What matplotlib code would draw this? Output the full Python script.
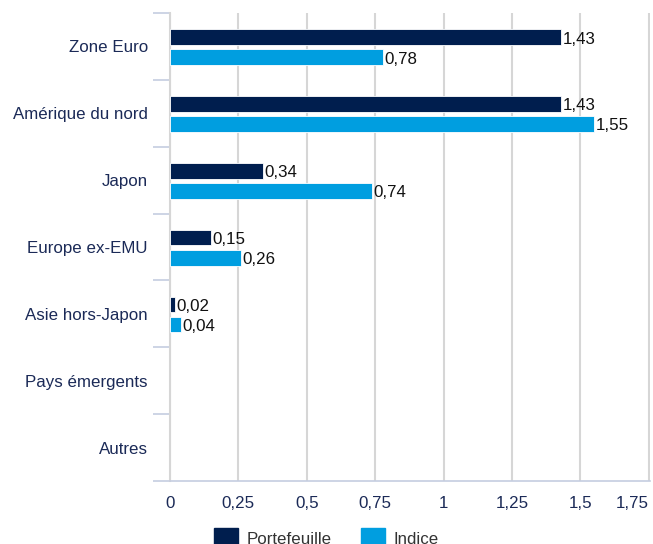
import numpy as np
import matplotlib.pyplot as plt
from matplotlib.patches import Patch
from matplotlib.ticker import FuncFormatter, FixedLocator

plt.rcParams['font.family'] = ['Liberation Sans', 'DejaVu Sans']

categories = ["Zone Euro", "Amérique du nord", "Japon", "Europe ex-EMU",
              "Asie hors-Japon", "Pays émergents", "Autres"]
portefeuille = [1.43, 1.43, 0.34, 0.15, 0.02, None, None]
indice = [0.78, 1.55, 0.74, 0.26, 0.04, None, None]
series_names = ["Portefeuille", "Indice"]
xticks = [0, 0.25, 0.5, 0.75, 1, 1.25, 1.5, 1.75]

dark = '#001e4e'
light = '#009ee0'
navy_txt = '#1b2a57'
grid_c = '#d6d6d6'
axis_c = '#c5cde0'


def fr(v):
    return ('%g' % v).replace('.', ',')


fig = plt.figure(figsize=(6.53, 5.44), dpi=100)
ax = fig.add_axes([0.2603, 0.1158, 0.7352, 0.8603])

y = np.arange(len(categories))
h = 0.235
for vals, off, col in [(portefeuille, -0.14, dark), (indice, 0.16, light)]:
    for yi, val in zip(y, vals):
        if val is None:
            continue
        ax.barh(yi + off, val, height=h, color=col, edgecolor='white',
                linewidth=0.6, zorder=3)
        ax.text(val + 0.005, yi + off + 0.03, fr(val), va='center', ha='left',
                fontsize=12.2, color='#111111', zorder=4)

ax.set_xlim(0, 1.755)
ax.set_ylim(len(categories) - 0.5, -0.5)

ax.set_xticks(xticks)
ax.xaxis.set_major_formatter(FuncFormatter(lambda v, p: fr(v)))
ax.tick_params(axis='x', length=0, pad=11, labelsize=12.2, labelcolor=navy_txt)
ax.get_xticklabels()[-1].set_horizontalalignment('right')
ax.grid(axis='x', color=grid_c, linewidth=1.5, zorder=0)

ax.set_yticks(y)
ax.set_yticklabels(categories)
ax.tick_params(axis='y', length=0, pad=16, labelsize=12.2, labelcolor=navy_txt)
ax.yaxis.set_minor_locator(FixedLocator(np.arange(-0.5, len(categories), 1)))
ax.tick_params(axis='y', which='minor', length=12, width=1.2, color=axis_c)

for s in ['top', 'right']:
    ax.spines[s].set_visible(False)
ax.spines['left'].set_color(grid_c)
ax.spines['left'].set_linewidth(1.5)
ax.spines['bottom'].set_color(axis_c)
ax.spines['bottom'].set_linewidth(1.2)

handles = [Patch(color=dark), Patch(color=light)]
fig.legend(handles, series_names, loc='upper center', bbox_to_anchor=(0.5, 0.029),
           ncol=2, frameon=False, fontsize=12.2, handlelength=1.45, handleheight=1.45,
           columnspacing=1.7, handletextpad=0.5, borderpad=0, borderaxespad=0,
           labelcolor='#333333')

fig.savefig('out.png', dpi=100)
